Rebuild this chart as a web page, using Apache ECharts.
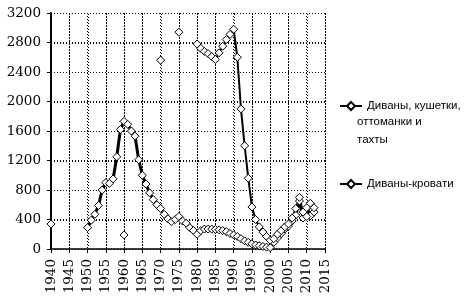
<!DOCTYPE html>
<html>
<head>
<meta charset="utf-8">
<script src="https://cdn.jsdelivr.net/npm/echarts@6/dist/echarts.min.js"></script>
<style>
  html, body { margin: 0; padding: 0; background: #fff; }
  #main { width: 472px; height: 301px; }
</style>
</head>
<body>
<div id="main"></div>
<script>
// годы и значения (тыс. шт.), null - нет данных
const years = [1940,
  1950, 1951, 1952, 1953, 1954, 1955, 1956, 1957, 1958, 1959,
  1960, 1961, 1962, 1963, 1964, 1965, 1966, 1967, 1968, 1969,
  1970, 1971, 1972, 1973, 1974, 1975, 1976, 1977, 1978, 1979,
  1980, 1981, 1982, 1983, 1984, 1985, 1986, 1987, 1988, 1989,
  1990, 1991, 1992, 1993, 1994, 1995, 1996, 1997, 1998, 1999,
  2000, 2001, 2002, 2003, 2004, 2005, 2006, 2007, 2008, 2009,
  2010, 2011, 2012];

const divans = [340,
  null, null, null, null, null, null, null, null, null, null,
  190, null, null, null, null, null, null, null, null, null,
  2560, null, null, null, null, 2940, null, null, null, null,
  2780, 2720, 2680, 2650, 2610, 2570, 2660, 2750, 2840, 2910,
  2980, 2600, 1900, 1400, 960, 570, 400, 300, 230, 170,
  120, 140, 200, 250, 300, 340, 420, 550, 700, 500,
  440, 620, 560];

const sofaBeds = [null,
  290, 390, 470, 590, 800, 900, 890, 950, 1250, 1620,
  1730, 1690, 1600, 1530, 1210, 1000, 880, 760, 670, 600,
  550, 470, 410, 370, 400, 440, 380, 350, 290, 250,
  200, 250, 270, 270, 270, 265, 260, 250, 235, 210,
  190, 170, 140, 110, 90, 70, 55, 45, 35, 25,
  20, 90, 150, 210, 270, 310, 380, 460, 650, 420,
  560, 450, 500];

const xTicks = [1940, 1945, 1950, 1955, 1960, 1965, 1970, 1975, 1980, 1985, 1990, 1995, 2000, 2005, 2010, 2015];
const yTicks = [0, 400, 800, 1200, 1600, 2000, 2400, 2800, 3200];
const seriesNames = ['Диваны, кушетки, оттоманки и тахты', 'Диваны-кровати'];

const xMin = xTicks[0], xMax = xTicks[xTicks.length - 1];
const yMin = yTicks[0], yMax = yTicks[yTicks.length - 1];

const toPairs = vals => years.map((y, i) => [y, vals[i] == null ? '-' : vals[i]]);

const chart = echarts.init(document.getElementById('main'));

const axisFont = { fontFamily: 'DejaVu Serif', fontSize: 13.5, color: '#000' };
const legendFont = { fontFamily: 'Liberation Sans', fontSize: 11.5, color: '#000' };
const dotted = { color: '#000', type: [1, 2], width: 1 };

chart.setOption({
  animation: false,
  backgroundColor: '#fff',
  grid: { left: 51, right: 147, top: 13, bottom: 52, containLabel: false },
  xAxis: {
    type: 'value',
    min: xMin, max: xMax, interval: 5,
    axisLine: { lineStyle: { color: '#000', width: 1.5 } },
    axisTick: { show: true, length: 4, lineStyle: { color: '#000' } },
    axisLabel: Object.assign({ rotate: 90, margin: 10, formatter: v => String(v) }, axisFont),
    splitLine: { show: true, lineStyle: dotted }
  },
  yAxis: {
    type: 'value',
    min: yMin, max: yMax, interval: 400,
    axisLine: { show: true, lineStyle: { color: '#000', width: 2 } },
    axisTick: { show: true, length: 4, lineStyle: { color: '#000' } },
    axisLabel: Object.assign({ margin: 10, formatter: v => String(v) }, axisFont),
    splitLine: { show: true, lineStyle: dotted }
  },
  legend: [
    {
      data: [seriesNames[0]],
      left: 339, top: 100, padding: 0,
      itemWidth: 22, itemHeight: 10,
      textStyle: legendFont,
      formatter: () => 'Диваны, кушетки,'
    },
    {
      data: [seriesNames[1]],
      left: 339, top: 178, padding: 0,
      itemWidth: 22, itemHeight: 10,
      textStyle: legendFont
    }
  ],
  series: [
    {
      name: seriesNames[1],
      type: 'line',
      z: 3,
      data: toPairs(sofaBeds),
      symbol: 'diamond', symbolSize: 8,
      showSymbol: true,
      connectNulls: false,
      lineStyle: { color: '#000', width: 3 },
      itemStyle: { color: '#fff', borderColor: '#000', borderWidth: 1 }
    },
    {
      name: seriesNames[0],
      type: 'line',
      z: 3,
      data: toPairs(divans),
      symbol: 'diamond', symbolSize: 8,
      showSymbol: true,
      connectNulls: false,
      lineStyle: { color: '#000', width: 2 },
      itemStyle: { color: '#fff', borderColor: '#000', borderWidth: 1 }
    }
  ]
});

// пунктирная сетка: позиции берутся из шкал графика через convertToPixel
const px = v => chart.convertToPixel({ xAxisIndex: 0 }, v);
const py = v => chart.convertToPixel({ yAxisIndex: 0 }, v);
const gridStyle = { stroke: '#000', lineWidth: 1, lineDash: [1, 2] };
const gridGraphics = [];
xTicks.slice(1).forEach(v => {
  const x = Math.round(px(v)) + 0.5;
  gridGraphics.push({ type: 'line', silent: true, z: 1,
    shape: { x1: x, y1: py(yMin), x2: x, y2: py(yMax) }, style: gridStyle });
});
yTicks.slice(1).forEach(v => {
  const y = Math.round(py(v)) + 0.5;
  gridGraphics.push({ type: 'line', silent: true, z: 1,
    shape: { x1: px(xMin), y1: y, x2: px(xMax), y2: y }, style: gridStyle });
});

chart.setOption({
  graphic: gridGraphics.concat([
    {
      type: 'text', left: 357, top: 116,
      style: { text: 'оттоманки и', font: '11.5px "Liberation Sans"', fill: '#000' }
    },
    {
      type: 'text', left: 357, top: 134,
      style: { text: 'тахты', font: '11.5px "Liberation Sans"', fill: '#000' }
    }
  ])
});
</script>
</body>
</html>
